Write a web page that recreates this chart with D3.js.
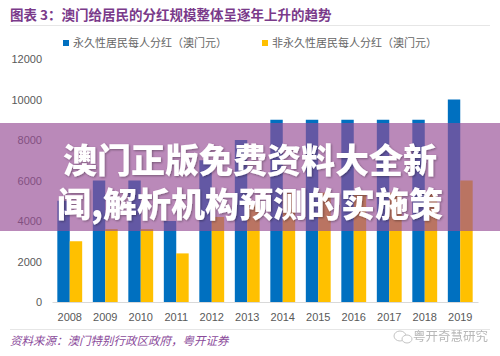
<!DOCTYPE html>
<html><head><meta charset="utf-8">
<script src="https://cdn.jsdelivr.net/npm/d3@7"></script>
<style>
html,body{margin:0;padding:0;background:#fff;}
svg{display:block;}
</style></head>
<body>
<script>
const years = ["2008","2009","2010","2011","2012","2013","2014","2015","2016","2017","2018","2019"];
const permanent = [5000,6000,6000,4000,7000,8000,9000,9000,9000,9000,9000,10000];
const nonPermanent = [3000,3600,3600,2400,4200,4800,5400,5400,5400,5400,5400,6000];
const seriesNames = ["永久性居民每人分红（澳门元）","非永久性居民每人分红（澳门元）"];
const seriesColors = ["#0070c0","#ffc000"];
const yTicks = [0,2000,4000,6000,8000,10000,12000];
const titleText = "图表 3：澳门给居民的分红规模整体呈逐年上升的趋势";
const sourceText = "资料来源：澳门特别行政区政府，粤开证券";
const watermarkText = "粤开奇慧研究";
const bannerLines = ["澳门正版免费资料大全新","闻,解析机构预测的实施策"];

const W = 500, H = 356;
const svg = d3.select("body").append("svg").attr("width", W).attr("height", H);
const numFont = "'Liberation Sans', Arial, sans-serif";
const cjkFont = "'Noto Sans CJK SC', sans-serif";

// title
svg.append("text").attr("x", 10).attr("y", 20)
  .attr("font-family", cjkFont).attr("font-size", 13.5).attr("font-weight", "bold")
  .attr("fill", "#7a3a8a").text(titleText);
svg.append("line").attr("x1", 10).attr("x2", 490).attr("y1", 25.5).attr("y2", 25.5)
  .attr("stroke", "#e6e6e6").attr("stroke-width", 1);

// legend
const legendX = [63, 262];
seriesNames.forEach((n, i) => {
  svg.append("rect").attr("x", legendX[i]).attr("y", 40).attr("width", 6).attr("height", 6).attr("fill", seriesColors[i]);
  svg.append("text").attr("x", legendX[i] + 10).attr("y", 47)
    .attr("font-family", cjkFont).attr("font-size", 11).attr("fill", "#666").text(n);
});

// scales
const x = d3.scaleBand().domain(years).range([52, 478]).paddingInner(0.3).paddingOuter(0.15);
const xs = d3.scaleBand().domain([0,1]).range([0, x.bandwidth()]);
const y = d3.scaleLinear().domain([0, 12000]).range([302, 59]);

// y labels
const yAxis = svg.append("g").attr("transform", "translate(42,0)")
  .call(d3.axisLeft(y).tickValues(yTicks).tickSize(0).tickPadding(0).tickFormat(d3.format("d")));
yAxis.select(".domain").remove();
yAxis.selectAll("text").attr("font-family", numFont).attr("font-size", 11).attr("fill", "#595959");

// bars
const data = years.map((yr, i) => ({yr, vals: [permanent[i], nonPermanent[i]]}));
const g = svg.append("g");
data.forEach(d => {
  d.vals.forEach((v, k) => {
    g.append("rect").attr("x", x(d.yr) + xs(k)).attr("width", xs.bandwidth())
      .attr("y", y(v)).attr("height", y(0) - y(v)).attr("fill", seriesColors[k]);
  });
});

// x axis
const xAxis = svg.append("g").attr("transform", "translate(0,302)")
  .call(d3.axisBottom(x).tickSize(0).tickPadding(11));
xAxis.select(".domain").attr("stroke", "#d9d9d9");
xAxis.selectAll("text").attr("font-family", numFont).attr("font-size", 11).attr("fill", "#595959");

// bottom separator & source
svg.append("line").attr("x1", 10).attr("x2", 490).attr("y1", 329.5).attr("y2", 329.5)
  .attr("stroke", "#e6e6e6").attr("stroke-width", 1);
svg.append("text").attr("x", 10).attr("y", 345)
  .attr("font-family", cjkFont).attr("font-size", 11.5).attr("font-style", "italic")
  .attr("fill", "#8a4a9a").attr("transform", "skewX(0)").text(sourceText);

// watermark
const wm = svg.append("g").attr("opacity", 0.7);
wm.append("ellipse").attr("cx", 400).attr("cy", 336).attr("rx", 6).attr("ry", 5).attr("fill", "none").attr("stroke", "#aaa");
wm.append("ellipse").attr("cx", 407).attr("cy", 339).attr("rx", 5).attr("ry", 4).attr("fill", "#fff").attr("stroke", "#aaa");
wm.append("text").attr("x", 413).attr("y", 341).attr("font-family", cjkFont).attr("font-size", 12.5)
  .attr("fill", "#999").text(watermarkText);

// banner overlay
svg.append("rect").attr("x", 0).attr("y", 123).attr("width", W).attr("height", 108)
  .attr("fill", "rgb(150,76,148)").attr("opacity", 0.66);
const defs = svg.append("defs");
const f = defs.append("filter").attr("id", "sh").attr("x", "-10%").attr("y", "-10%").attr("width", "120%").attr("height", "130%");
f.append("feDropShadow").attr("dx", 1).attr("dy", 1).attr("stdDeviation", 1).attr("flood-color", "#000").attr("flood-opacity", 0.35);
bannerLines.forEach((t, i) => {
  svg.append("text").attr("x", 250).attr("y", 158 + i * 44)
    .attr("text-anchor", "middle").attr("dominant-baseline", "central")
    .attr("font-family", cjkFont).attr("font-size", 34).attr("font-weight", 900)
    .attr("fill", "#fff").attr("filter", "url(#sh)").text(t);
});
</script>
</body></html>
